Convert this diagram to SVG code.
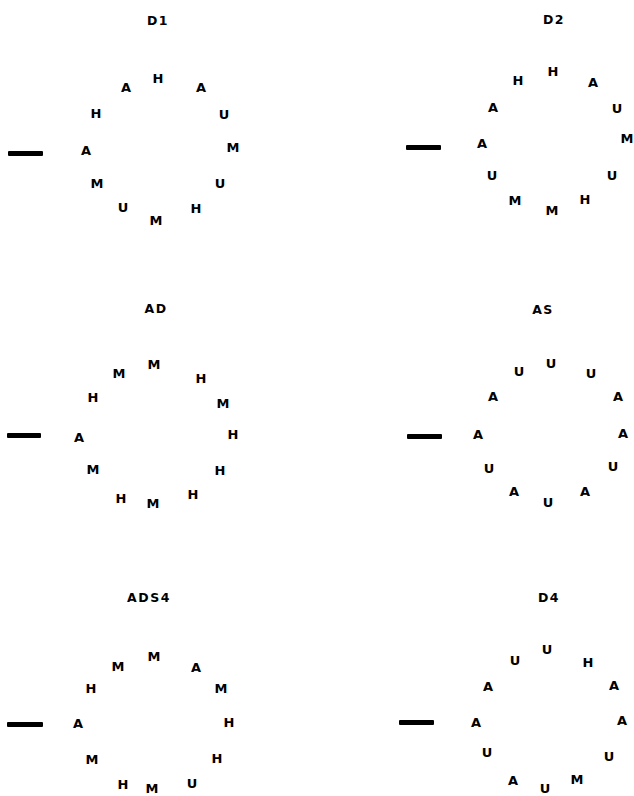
<svg xmlns="http://www.w3.org/2000/svg" width="634" height="796" viewBox="0 0 634 796">
  <style>
    .t { font-family: "DejaVu Sans", "Liberation Sans", sans-serif; font-weight: bold; font-size: 12.5px; letter-spacing: 1.5px; fill: #000; text-anchor: middle; }
    .r { font-family: "DejaVu Sans", "Liberation Sans", sans-serif; font-weight: bold; font-size: 13px; fill: #000; text-anchor: middle; }
    .bar { fill: #000; }
  </style>
  <rect width="634" height="796" fill="#fff"/>

  <!-- D1 -->
  <g id="D1">
    <text class="t" x="158" y="25">D1</text>
    <rect class="bar" x="8" y="151" width="35" height="5" rx="1"/>
    <text class="r" x="158" y="83">H</text>
    <text class="r" x="126" y="92">A</text>
    <text class="r" x="201" y="92">A</text>
    <text class="r" x="96" y="118">H</text>
    <text class="r" x="224" y="119">U</text>
    <text class="r" x="86" y="155">A</text>
    <text class="r" x="233" y="152">M</text>
    <text class="r" x="97" y="188">M</text>
    <text class="r" x="220" y="188">U</text>
    <text class="r" x="123" y="212">U</text>
    <text class="r" x="156" y="225">M</text>
    <text class="r" x="196" y="213">H</text>
  </g>

  <!-- D2 -->
  <g id="D2">
    <text class="t" x="554" y="24">D2</text>
    <rect class="bar" x="406" y="145" width="35" height="5" rx="1"/>
    <text class="r" x="553" y="76">H</text>
    <text class="r" x="518" y="85">H</text>
    <text class="r" x="593" y="87">A</text>
    <text class="r" x="493" y="112">A</text>
    <text class="r" x="617" y="113">U</text>
    <text class="r" x="482" y="148">A</text>
    <text class="r" x="627" y="143">M</text>
    <text class="r" x="492" y="180">U</text>
    <text class="r" x="612" y="180">U</text>
    <text class="r" x="515" y="205">M</text>
    <text class="r" x="552" y="215">M</text>
    <text class="r" x="585" y="204">H</text>
  </g>

  <!-- AD -->
  <g id="AD">
    <text class="t" x="156" y="313">AD</text>
    <rect class="bar" x="7" y="433" width="34" height="5" rx="1"/>
    <text class="r" x="154" y="369">M</text>
    <text class="r" x="119" y="378">M</text>
    <text class="r" x="201" y="383">H</text>
    <text class="r" x="93" y="402">H</text>
    <text class="r" x="223" y="408">M</text>
    <text class="r" x="79" y="442">A</text>
    <text class="r" x="233" y="439">H</text>
    <text class="r" x="93" y="474">M</text>
    <text class="r" x="220" y="475">H</text>
    <text class="r" x="121" y="503">H</text>
    <text class="r" x="153" y="508">M</text>
    <text class="r" x="193" y="499">H</text>
  </g>

  <!-- AS -->
  <g id="AS">
    <text class="t" x="543" y="314">AS</text>
    <rect class="bar" x="407" y="434" width="35" height="5" rx="1"/>
    <text class="r" x="551" y="368">U</text>
    <text class="r" x="519" y="376">U</text>
    <text class="r" x="591" y="378">U</text>
    <text class="r" x="493" y="401">A</text>
    <text class="r" x="618" y="401">A</text>
    <text class="r" x="478" y="439">A</text>
    <text class="r" x="623" y="438">A</text>
    <text class="r" x="489" y="473">U</text>
    <text class="r" x="613" y="471">U</text>
    <text class="r" x="514" y="496">A</text>
    <text class="r" x="548" y="507">U</text>
    <text class="r" x="585" y="496">A</text>
  </g>

  <!-- ADS4 -->
  <g id="ADS4">
    <text class="t" x="149" y="602">ADS4</text>
    <rect class="bar" x="7" y="722" width="36" height="5" rx="1"/>
    <text class="r" x="154" y="661">M</text>
    <text class="r" x="118" y="671">M</text>
    <text class="r" x="196" y="672">A</text>
    <text class="r" x="91" y="693">H</text>
    <text class="r" x="221" y="693">M</text>
    <text class="r" x="78" y="728">A</text>
    <text class="r" x="229" y="727">H</text>
    <text class="r" x="92" y="764">M</text>
    <text class="r" x="217" y="763">H</text>
    <text class="r" x="123" y="789">H</text>
    <text class="r" x="152" y="793">M</text>
    <text class="r" x="192" y="788">U</text>
  </g>

  <!-- D4 -->
  <g id="D4">
    <text class="t" x="549" y="602">D4</text>
    <rect class="bar" x="399" y="720" width="35" height="5" rx="1"/>
    <text class="r" x="547" y="654">U</text>
    <text class="r" x="515" y="665">U</text>
    <text class="r" x="588" y="667">H</text>
    <text class="r" x="488" y="691">A</text>
    <text class="r" x="614" y="690">A</text>
    <text class="r" x="476" y="727">A</text>
    <text class="r" x="622" y="725">A</text>
    <text class="r" x="487" y="757">U</text>
    <text class="r" x="609" y="761">U</text>
    <text class="r" x="513" y="785">A</text>
    <text class="r" x="545" y="793">U</text>
    <text class="r" x="577" y="784">M</text>
  </g>

  <!-- connectors: none drawn -->
  <g id="connectors"></g>
</svg>
